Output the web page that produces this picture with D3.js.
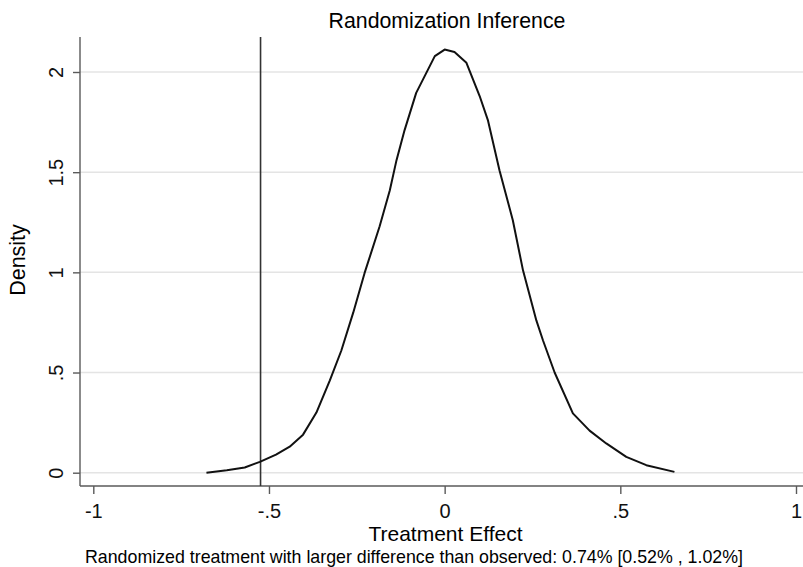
<!DOCTYPE html>
<html>
<head>
<meta charset="utf-8">
<script src="https://cdn.jsdelivr.net/npm/d3@7"></script>
<style>
  body { margin: 0; background: #fff; }
  svg { display: block; font-family: 'Liberation Sans', Arial, sans-serif; }
  .grid line { stroke: #e4e4e4; stroke-width: 1.5; }
  .axis path, .axis line { stroke: #5a5a5a; stroke-width: 1.4; }
  .axis text { fill: #111; font-size: 20px; }
  .line-density { fill: none; stroke: #111; stroke-width: 2; stroke-linejoin: round; }
  .line-observed { stroke: #333; stroke-width: 1.6; }
</style>
</head>
<body>
<div id="chart"></div>
<script>
// data
const effectX = [
  -0.678, -0.62, -0.569, -0.526, -0.48, -0.441, -0.403, -0.365, -0.327, -0.294,
  -0.26, -0.228, -0.185, -0.156, -0.137, -0.114, -0.081, -0.028, 0.0, 0.028,
  0.062, 0.0996, 0.123, 0.156, 0.194, 0.223, 0.261, 0.28, 0.313, 0.365,
  0.4125, 0.46, 0.517, 0.574, 0.654
];
const densityY = [
  0.0, 0.012, 0.026, 0.054, 0.09, 0.13, 0.19, 0.30, 0.46, 0.61,
  0.80, 0.996, 1.23, 1.41, 1.56, 1.71, 1.896, 2.079, 2.112, 2.10,
  2.046, 1.88, 1.76, 1.51, 1.26, 1.01, 0.76, 0.66, 0.50, 0.296,
  0.21, 0.146, 0.079, 0.0375, 0.004
];
const observedEffect = -0.524;
const xTicks = [-1, -0.5, 0, 0.5, 1];
const xTickLabels = ['-1', '-.5', '0', '.5', '1'];
const yTicks = [0, 0.5, 1, 1.5, 2];
const yTickLabels = ['0', '.5', '1', '1.5', '2'];

const title = 'Randomization Inference';
const xTitle = 'Treatment Effect';
const yTitle = 'Density';
const note = 'Randomized treatment with larger difference than observed: 0.74% [0.52% , 1.02%]';

// dimensions
const WIDTH = 803;
const HEIGHT = 567;
const MARGIN_TOP = 37;
const MARGIN_LEFT = 80;
const PLOT_BOTTOM = 486;

const $svg = d3.select('#chart').append('svg')
  .attr('width', WIDTH)
  .attr('height', HEIGHT);

// scales
const scaleX = d3.scaleLinear().domain([-1, 1]).range([93.3, 796]);
const scaleY = d3.scaleLinear().domain([0, 2]).range([472.7, 72]);

const data = effectX.map((x, i) => ({ x, y: densityY[i] }));

// gridlines
$svg.append('g')
  .attr('class', 'grid')
  .selectAll('line')
  .data(yTicks)
  .join('line')
  .attr('x1', MARGIN_LEFT)
  .attr('x2', WIDTH)
  .attr('y1', (d) => scaleY(d))
  .attr('y2', (d) => scaleY(d));

// x axis
$svg.append('g')
  .attr('class', 'axis axis-x')
  .attr('transform', `translate(0, ${PLOT_BOTTOM})`)
  .call(d3.axisBottom(scaleX)
    .tickValues(xTicks)
    .tickSize(8)
    .tickPadding(10)
    .tickFormat((d, i) => xTickLabels[i]))
  .call((g) => g.select('.domain').attr('d', `M${MARGIN_LEFT},0H${WIDTH}`));

// y axis
$svg.append('g')
  .attr('class', 'axis axis-y')
  .attr('transform', `translate(${MARGIN_LEFT}, 0)`)
  .call(d3.axisLeft(scaleY)
    .tickValues(yTicks)
    .tickSize(7)
    .tickFormat((d, i) => yTickLabels[i]))
  .call((g) => g.select('.domain').attr('d', `M0,${MARGIN_TOP}V${PLOT_BOTTOM}`))
  .call((g) => g.selectAll('.tick text')
    .attr('x', null)
    .attr('dy', null)
    .attr('text-anchor', 'middle')
    .attr('transform', 'translate(-17, 0) rotate(-90)'));

// observed effect
$svg.append('line')
  .attr('class', 'line-observed')
  .attr('x1', scaleX(observedEffect))
  .attr('x2', scaleX(observedEffect))
  .attr('y1', MARGIN_TOP)
  .attr('y2', PLOT_BOTTOM);

// density curve
const line = d3.line()
  .x((d) => scaleX(d.x))
  .y((d) => scaleY(d.y));

$svg.append('path')
  .datum(data)
  .attr('class', 'line-density')
  .attr('d', line);

// titles
$svg.append('text')
  .attr('x', 447)
  .attr('y', 28)
  .attr('text-anchor', 'middle')
  .style('font-size', '21.3px')
  .text(title);

$svg.append('text')
  .attr('x', 445.5)
  .attr('y', 541)
  .attr('text-anchor', 'middle')
  .style('font-size', '21px')
  .text(xTitle);

$svg.append('text')
  .attr('transform', 'translate(25, 260) rotate(-90)')
  .attr('text-anchor', 'middle')
  .style('font-size', '21.5px')
  .text(yTitle);

$svg.append('text')
  .attr('x', 85)
  .attr('y', 563)
  .style('font-size', '17.8px')
  .text(note);
</script>
</body>
</html>
